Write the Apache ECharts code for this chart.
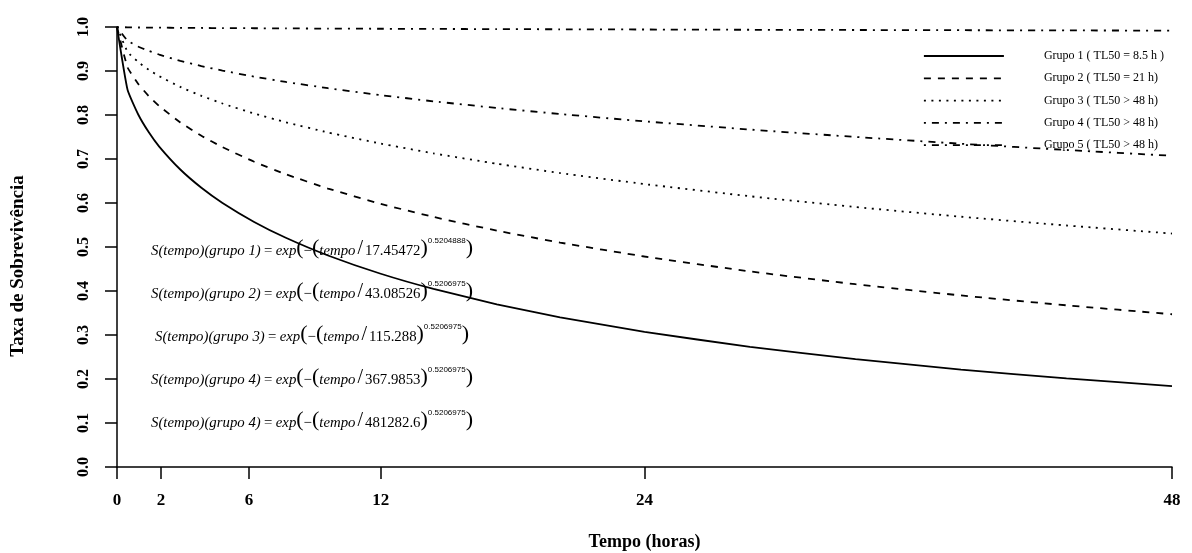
<!DOCTYPE html>
<html>
<head>
<meta charset="utf-8">
<script src="https://cdn.jsdelivr.net/npm/echarts@6/dist/echarts.min.js"></script>
<style>
html,body{margin:0;padding:0;background:#fff;}
#chart{width:1192px;height:553px;}
</style>
</head>
<body>
<div id="chart"></div>
<script>
// Time (hours) sample points
var tempo = [0, 0.48, 0.96, 1.44, 1.92, 2.88, 3.84, 4.8, 6.24, 7.68, 9.6, 12, 14.4, 17.28, 20.16, 24, 28.8, 33.6, 38.4, 43.2, 48];
// Survival rates
var grupo1 = [1, 0.8572, 0.8017, 0.7612, 0.7283, 0.6761, 0.6346, 0.6001, 0.5569, 0.5209, 0.4807, 0.4392, 0.4047, 0.3698, 0.3403, 0.3072, 0.2731, 0.2451, 0.2215, 0.2014, 0.1840];
var grupo2 = [1, 0.9083, 0.8711, 0.8433, 0.8204, 0.7831, 0.7528, 0.7269, 0.6938, 0.6654, 0.6328, 0.5981, 0.5683, 0.5372, 0.5100, 0.4784, 0.4445, 0.4154, 0.3899, 0.3674, 0.3472];
var grupo3 = [1, 0.9440, 0.9207, 0.9030, 0.8882, 0.8638, 0.8436, 0.8261, 0.8033, 0.7835, 0.7603, 0.7350, 0.7128, 0.6892, 0.6681, 0.6430, 0.6153, 0.5908, 0.5688, 0.5489, 0.5306];
var grupo4 = [1, 0.9690, 0.9558, 0.9458, 0.9373, 0.9231, 0.9112, 0.9009, 0.8872, 0.8752, 0.8609, 0.8452, 0.8311, 0.8159, 0.8022, 0.7856, 0.7669, 0.7501, 0.7347, 0.7205, 0.7073];
var grupo5 = [1, 0.9993, 0.9989, 0.9987, 0.9985, 0.9981, 0.9978, 0.9975, 0.9972, 0.9968, 0.9964, 0.9960, 0.9956, 0.9952, 0.9948, 0.9943, 0.9937, 0.9932, 0.9927, 0.9922, 0.9918];
var seriesNames = ['Grupo 1 ( TL50 = 8.5 h )', 'Grupo 2 ( TL50 = 21 h)', 'Grupo 3 ( TL50 > 48 h)', 'Grupo 4 ( TL50 > 48 h)', 'Grupo 5 ( TL50 > 48 h)'];
var xTicks = [0, 2, 6, 12, 24, 48];
var yTicks = [0, 0.1, 0.2, 0.3, 0.4, 0.5, 0.6, 0.7, 0.8, 0.9, 1.0];
var equacoes = [
  ['1', '17.45472', '0.5204888'],
  ['2', '43.08526', '0.5206975'],
  ['3', '115.288', '0.5206975'],
  ['4', '367.9853', '0.5206975'],
  ['4', '481282.6', '0.5206975']
];
var yTitle = 'Taxa de Sobrevivência';
var xTitle = 'Tempo (horas)';

var serif = '"Liberation Serif", "DejaVu Serif", serif';
var groups = [grupo1, grupo2, grupo3, grupo4, grupo5];
var dashes = ['solid', [7, 7], [2, 5.5], [2, 6, 7, 6], [2, 6, 7, 6]];

function pairs(arr) { return tempo.map(function (t, i) { return [t, arr[i]]; }); }

var series = groups.map(function (g, i) {
  return {
    name: seriesNames[i],
    type: 'line',
    data: pairs(g),
    symbol: 'none',
    showSymbol: false,
    smooth: 0.15,
    lineStyle: { color: '#000', width: 1.8, type: dashes[i] },
    itemStyle: { color: '#000' },
    animation: false
  };
});

var eqCenters = [248, 291, 334, 377, 420];
var graphics = equacoes.map(function (e, i) {
  return {
    type: 'text',
    x: 312,
    y: eqCenters[i],
    style: {
      text: '{it|S(tempo)(grupo ' + e[0] + ')} {n|=} {it|exp}{big|(}{n|\u2212}{big|(}{it|tempo}{sl|/}{n|' + e[1] + '}{big|)}{sup|' + e[2] + '}{big|)}',
      align: 'center',
      verticalAlign: 'middle',
      rich: {
        it: { fontFamily: serif, fontStyle: 'italic', fontSize: 14.8, fill: '#000', verticalAlign: 'bottom' },
        n: { fontFamily: serif, fontSize: 14.8, fill: '#000', verticalAlign: 'bottom' },
        sl: { fontFamily: serif, fontSize: 20, fill: '#000', verticalAlign: 'bottom', padding: [0, 2, 0, 2] },
        big: { fontFamily: serif, fontSize: 22, fill: '#000', verticalAlign: 'bottom' },
        sup: { fontFamily: '"Liberation Sans", sans-serif', fontSize: 8, fill: '#000', verticalAlign: 'top', letterSpacing: -0.6 }
      }
    },
    z: 10
  };
});
graphics.push({
  type: 'text',
  x: 18,
  y: 266,
  rotation: Math.PI / 2,
  style: {
    text: yTitle,
    align: 'center',
    verticalAlign: 'middle',
    fontFamily: serif,
    fontWeight: 'bold',
    fontSize: 19,
    fill: '#000'
  }
});

var chart = echarts.init(document.getElementById('chart'), null, { renderer: 'canvas' });
chart.setOption({
  backgroundColor: '#fff',
  animation: false,
  grid: { left: 117, right: 20, top: 27, bottom: 86, containLabel: false, outerBoundsMode: 'none' },
  legend: {
    data: seriesNames,
    orient: 'vertical',
    left: 923,
    top: 50,
    padding: 0,
    itemWidth: 80,
    itemHeight: 14,
    itemGap: 10.3,
    itemStyle: { opacity: 0 },
    lineStyle: { width: 1.8 },
    textStyle: { fontFamily: serif, fontSize: 12, color: '#000', padding: [2, 0, 0, 35] },
    selectedMode: false
  },
  xAxis: {
    type: 'value',
    min: 0,
    max: 48,
    name: xTitle,
    nameLocation: 'middle',
    nameGap: 66,
    nameTextStyle: { fontFamily: serif, fontWeight: 'bold', fontSize: 18, color: '#000' },
    axisLine: { show: true, onZero: false, lineStyle: { color: '#000', width: 1.5 } },
    axisTick: { show: true, length: 12, customValues: xTicks, lineStyle: { color: '#000', width: 1.5 } },
    axisLabel: { customValues: xTicks, margin: 25, fontFamily: serif, fontWeight: 'bold', fontSize: 17, color: '#000' },
    splitLine: { show: false }
  },
  yAxis: {
    type: 'value',
    min: 0,
    max: 1,
    interval: 0.1,
    axisLine: { show: true, onZero: false, lineStyle: { color: '#000', width: 1.5 } },
    axisTick: { show: true, length: 12, lineStyle: { color: '#000', width: 1.5 } },
    axisLabel: {
      rotate: 90,
      margin: 25,
      fontFamily: serif,
      fontWeight: 'bold',
      fontSize: 16,
      color: '#000',
      formatter: function (v) { return v.toFixed(1); }
    },
    splitLine: { show: false }
  },
  graphic: graphics,
  series: series
});
</script>
</body>
</html>
